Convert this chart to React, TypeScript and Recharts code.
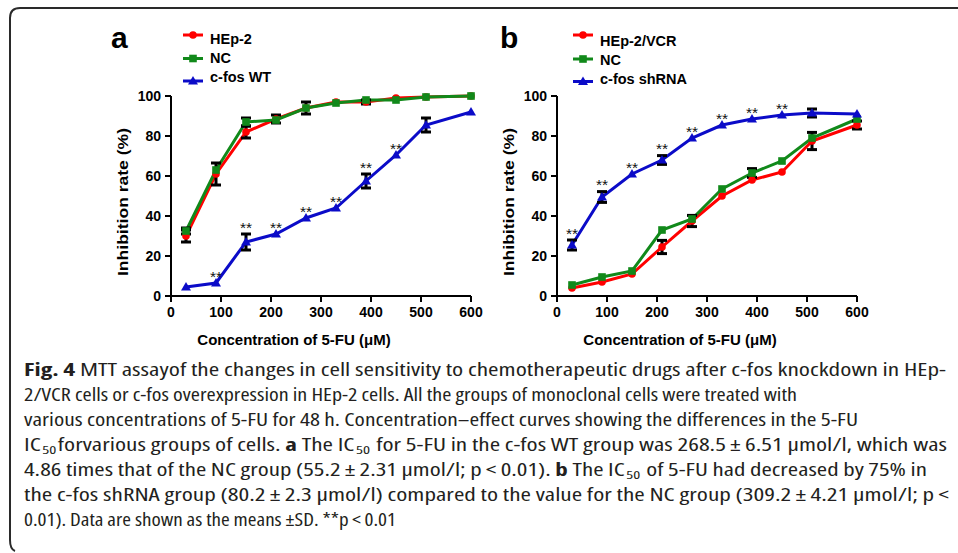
import React from 'react';
import { LineChart, Line, XAxis, YAxis, ErrorBar, LabelList, Label } from 'recharts';

// ---------- data ----------
const concentrations = [30, 90, 150, 210, 270, 330, 390, 450, 510, 600];
const xTicks = [0, 100, 200, 300, 400, 500, 600];
const yTicks = [0, 20, 40, 60, 80, 100];

// Panel a
const aNames = ['HEp-2', 'NC', 'c-fos WT'];
const aHep2 = [30, 61, 82, 88.5, 94, 97, 97, 99, 99.5, 100];
const aHep2Sd = [3, 5.5, 3, 2, 3, 0, 1, 0, 0, 0];
const aNc = [32.5, 63, 87, 88, 94, 96.5, 98, 98, 99.5, 100];
const aNcSd = [1.5, 0, 2, 0, 0, 0, 0, 0, 0, 0];
const aWt = [4.5, 6.5, 27, 31, 39, 44, 57.5, 70.5, 85.5, 92];
const aWtSd = [0, 0, 4, 0, 0, 0, 3.5, 0, 3.5, 0];
const aSig = [false, true, true, true, true, true, true, true, false, false];

// Panel b
const bNames = ['HEp-2/VCR', 'NC', 'c-fos shRNA'];
const bVcr = [4, 7, 11, 24.5, 37.5, 50, 58, 62, 77.5, 85.5];
const bVcrSd = [0, 0, 0, 3.3, 2.8, 0, 0, 0, 4.3, 2];
const bNc = [5.5, 9.5, 12.5, 33, 38.5, 53.5, 61.5, 67.5, 79, 88.5];
const bNcSd = [0, 0, 0, 0, 0, 0, 2.2, 0, 0, 0];
const bSh = [25.5, 49.5, 61, 68, 79, 85.5, 88.5, 90.5, 91.5, 91];
const bShSd = [2.5, 2.7, 0, 2.2, 0, 0, 0, 0, 2, 0];
const bSig = [true, true, true, true, true, true, true, true, false, false];

const xTitle = 'Concentration of 5-FU (\u03bcM)';
const yTitle = 'Inhibition rate (%)';

// ---------- style ----------
const FONT = '"Liberation Sans", Arial, Helvetica, sans-serif';
const CAP_FONT = '"Open Sans", "Noto Sans", sans-serif';
const RED = '#ff0000';
const GREEN = '#11891a';
const BLUE = '#0b0bc8';
const COLORS = [RED, GREEN, BLUE];
const SHAPES = ['circle', 'square', 'triangle'];

function Marker({ shape, cx, cy, color }: { shape: string; cx: number; cy: number; color: string }) {
  if (shape === 'circle') return <circle cx={cx} cy={cy} r={3.8} fill={color} />;
  if (shape === 'square') return <rect x={cx - 3.8} y={cy - 3.8} width={7.6} height={7.6} fill={color} />;
  return <polygon points={`${cx},${cy - 5} ${cx - 5},${cy + 3.5} ${cx + 5},${cy + 3.5}`} fill={color} />;
}

const makeDot = (shape: string, color: string) => (p: any) => {
  const { cx, cy, index } = p;
  if (cx == null || cy == null) return <g key={`n${index}`} />;
  return (
    <g key={`m${index}`}>
      <Marker shape={shape} cx={cx} cy={cy} color={color} />
    </g>
  );
};

const StarLabel = (p: any) => {
  const x = p.x ?? p.viewBox?.x;
  const y = p.y ?? p.viewBox?.y;
  if (p.value == null || x == null || y == null) return null;
  return (
    <text x={x} y={y + 8.5} textAnchor="middle" fontSize={15.5} fontFamily={FONT} fill="#111">
      **
    </text>
  );
};

interface PanelProps {
  left: number;
  values: number[][];
  sds: number[][];
  sig: boolean[];
  sigIndex: number;
}

function Panel({ left, values, sds, sig, sigIndex }: PanelProps) {
  const data = concentrations.map((c, i) => {
    const row: any = { conc: c };
    values.forEach((v, s) => {
      row['s' + s] = v[i];
      row['e' + s] = sds[s][i];
    });
    row.star = sig[i] ? values[sigIndex][i] + sds[sigIndex][i] + 5 : null;
    return row;
  });
  const axisLine = { stroke: '#000', strokeWidth: 2 };
  const tick = { fill: '#000', fontSize: 14, fontWeight: 700, fontFamily: FONT };
  return (
    <div style={{ position: 'absolute', left, top: 0 }}>
      <LineChart width={400} height={360} data={data} margin={{ top: 96, right: 29, left: 0, bottom: 0 }}>
        <XAxis
          type="number"
          dataKey="conc"
          domain={[0, 600]}
          ticks={xTicks}
          interval={0}
          height={64}
          axisLine={axisLine}
          tickLine={axisLine}
          tickSize={6}
          tickMargin={5}
          tick={tick}
        >
          <Label
            content={(p: any) => {
              const vb = p.viewBox || {};
              return (
                <text
                  x={vb.x + 123}
                  y={vb.y + 49}
                  textAnchor="middle"
                  fontSize={15}
                  fontWeight={700}
                  fontFamily={FONT}
                  fill="#000"
                >
                  {xTitle}
                </text>
              );
            }}
          />
        </XAxis>
        <YAxis
          type="number"
          domain={[0, 100]}
          ticks={yTicks}
          interval={0}
          width={71}
          axisLine={axisLine}
          tickLine={axisLine}
          tickSize={6}
          tickMargin={4}
          tick={tick}
        >
          <Label
            content={(p: any) => {
              const vb = p.viewBox || {};
              const cx = vb.x + 22;
              const cy = vb.y + 106;
              return (
                <text
                  x={cx}
                  y={cy}
                  transform={`rotate(-90, ${cx}, ${cy})`}
                  textAnchor="middle"
                  dominantBaseline="central"
                  fontSize={15}
                  fontWeight={700}
                  fontFamily={FONT}
                  fill="#000"
                  textLength={148}
                  lengthAdjust="spacingAndGlyphs"
                >
                  {yTitle}
                </text>
              );
            }}
          />
        </YAxis>
        {values.map((_, s) => (
          <Line
            key={'l' + s}
            type="linear"
            dataKey={'s' + s}
            stroke={COLORS[s]}
            strokeWidth={3}
            dot={makeDot(SHAPES[s], COLORS[s])}
            activeDot={false}
            isAnimationActive={false}
          />
        ))}
        {values.map((_, s) => (
          <Line
            key={'e' + s}
            type="linear"
            dataKey={'s' + s}
            stroke="none"
            dot={false}
            activeDot={false}
            legendType="none"
            isAnimationActive={false}
          >
            <ErrorBar dataKey={'e' + s} width={5} strokeWidth={3} stroke="#000" direction="y" />
          </Line>
        ))}
        <Line
          type="linear"
          dataKey="star"
          stroke="none"
          dot={false}
          activeDot={false}
          legendType="none"
          isAnimationActive={false}
        >
          <LabelList dataKey="star" content={StarLabel} />
        </Line>
      </LineChart>
    </div>
  );
}

// ---------- caption ----------
type Seg = { t: string; b?: boolean; sub?: boolean };
const captionLines: Seg[][] = [
  [{ t: 'Fig. 4', b: true }, { t: ' MTT assayof the changes in cell sensitivity to chemotherapeutic drugs after c-fos knockdown in HEp-' }],
  [{ t: '2/VCR cells or c-fos overexpression in HEp-2 cells. All the groups of monoclonal cells were treated with' }],
  [{ t: 'various concentrations of 5-FU for 48 h. Concentration\u2013effect curves showing the differences in the 5-FU' }],
  [
    { t: 'IC' }, { t: '50', sub: true }, { t: 'forvarious groups of cells. ' }, { t: 'a', b: true }, { t: ' The IC' },
    { t: '50', sub: true }, { t: ' for 5-FU in the c-fos WT group was 268.5\u2009\u00b1\u20096.51 \u03bcmol/l, which was' },
  ],
  [
    { t: '4.86 times that of the NC group (55.2\u2009\u00b1\u20092.31 \u03bcmol/l; p\u2009<\u20090.01). ' }, { t: 'b', b: true },
    { t: ' The IC' }, { t: '50', sub: true }, { t: ' of 5-FU had decreased by 75% in' },
  ],
  [{ t: 'the c-fos shRNA group (80.2\u2009\u00b1\u20092.3 \u03bcmol/l) compared to the value for the NC group (309.2\u2009\u00b1\u20094.21 \u03bcmol/l; p\u2009<' }],
  [{ t: '0.01). Data are shown as the means \u00b1SD. **p\u2009<\u20090.01' }],
];
const captionEnds = [946, 797, 858, 947, 927, 949, 396];

function CaptionLine({ segs, y, end }: { segs: Seg[]; y: number; end: number }) {
  let shifted = false;
  const parts = segs.map((s, i) => {
    let dy = 0;
    let dx = 0;
    if (s.sub && !shifted) { dy = 3; dx = 1; shifted = true; }
    else if (!s.sub && shifted) { dy = -3; dx = 1; shifted = false; }
    return (
      <tspan
        key={i}
        dy={dy || undefined}
        dx={dx || undefined}
        fontWeight={s.b ? 700 : 400}
        fontSize={s.sub ? 11.5 : 17.5}
      >
        {s.t}
      </tspan>
    );
  });
  return (
    <text
      x={24}
      y={y}
      fontFamily={CAP_FONT}
      fontSize={17.5}
      fill="#231f20"
      textLength={end - 24}
      lengthAdjust="spacingAndGlyphs"
      style={{ whiteSpace: 'pre', fontStretch: '87.5%' }}
    >
      {parts}
    </text>
  );
}

function Legend({ x, names, lineYs, textYs }: { x: number; names: string[]; lineYs: number[]; textYs: number[] }) {
  return (
    <g>
      {names.map((n, i) => (
        <g key={n}>
          <line x1={x} x2={x + 20} y1={lineYs[i]} y2={lineYs[i]} stroke={COLORS[i]} strokeWidth={3} />
          <Marker shape={SHAPES[i]} cx={x + 10} cy={lineYs[i]} color={COLORS[i]} />
          <text
            x={x + 27}
            y={textYs[i]}
            dominantBaseline="central"
            fontFamily={FONT}
            fontWeight={700}
            fontSize={14.5}
            fill="#000"
          >
            {n}
          </text>
        </g>
      ))}
    </g>
  );
}

export default function App() {
  return (
    <div style={{ position: 'absolute', left: 0, top: 0, width: 958, height: 553, background: '#fff', overflow: 'hidden' }}>
      <Panel left={100} values={[aHep2, aNc, aWt]} sds={[aHep2Sd, aNcSd, aWtSd]} sig={aSig} sigIndex={2} />
      <Panel left={486} values={[bVcr, bNc, bSh]} sds={[bVcrSd, bNcSd, bShSd]} sig={bSig} sigIndex={2} />
      <svg width={958} height={553} style={{ position: 'absolute', left: 0, top: 0, pointerEvents: 'none' }}>
        <path d="M958,8 L20,8 Q10,8 10,18 L10,540 Q10,549 15,551" fill="none" stroke="#2a2a2a" strokeWidth={2} />
        <text x={111} y={48} fontFamily={FONT} fontWeight={700} fontSize={30} fill="#000">a</text>
        <text x={500} y={48} fontFamily={FONT} fontWeight={700} fontSize={30} fill="#000">b</text>
        <Legend x={183} names={aNames} lineYs={[35, 58.5, 81]} textYs={[39, 58, 76.5]} />
        <Legend x={573} names={bNames} lineYs={[35, 59, 81.5]} textYs={[40.5, 60, 78.5]} />
        {captionLines.map((segs, i) => (
          <CaptionLine key={i} segs={segs} y={376 + i * 25} end={captionEnds[i]} />
        ))}
      </svg>
    </div>
  );
}
